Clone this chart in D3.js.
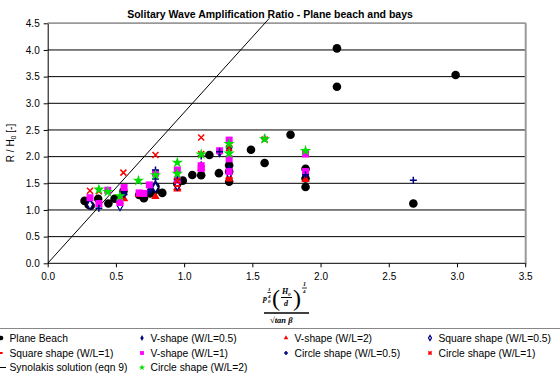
<!DOCTYPE html>
<html><head><meta charset="utf-8">
<script src="https://cdn.jsdelivr.net/npm/d3@7"></script>
<style>body{margin:0;background:#fff}svg{display:block;font-family:"Liberation Sans",Arial,sans-serif}</style>
</head><body><div id="c"></div>
<script>
const xTicks=[0,0.5,1,1.5,2,2.5,3,3.5];
const yTicks=[0,0.5,1,1.5,2,2.5,3,3.5,4,4.5];
const planeBeach=[[0.27,1.17],[0.30,1.10],[0.315,1.08],[0.37,1.21],[0.445,1.12],[0.49,1.21],[0.555,1.35],[0.67,1.28],[0.705,1.22],[0.75,1.31],[0.79,1.375],[0.79,1.44],[0.84,1.32],[0.95,1.49],[0.99,1.55],[1.06,1.655],[1.125,1.65],[1.185,2.03],[1.255,1.69],[1.33,1.84],[1.33,1.72],[1.33,1.53],[1.49,2.13],[1.59,1.88],[1.78,2.41],[1.89,1.77],[1.89,1.59],[1.89,1.43],[2.12,4.03],[2.12,3.31],[2.99,3.53],[2.68,1.12]];
const vShape05=[[0.31,1.13],[0.53,1.10],[0.56,1.30],[0.75,1.375],[0.79,1.47],[0.95,1.52],[1.125,1.82],[1.26,2.08],[1.33,2.15],[1.33,1.76],[1.89,1.65]];
const vShape2=[[0.53,1.15],[0.56,1.21],[0.67,1.29],[0.79,1.25],[0.95,1.42],[0.95,1.39],[1.125,1.78],[1.33,1.63],[1.33,1.58],[1.89,1.57]];
const square05=[[0.31,1.10],[0.53,1.08],[0.79,1.42],[0.95,1.46],[1.33,1.68]];
const square1=[[0.44,1.35],[0.67,1.30],[0.95,1.45],[1.33,1.60],[1.59,2.33]];
const vShape1=[[0.31,1.23],[0.375,1.12],[0.44,1.37],[0.53,1.14],[0.56,1.42],[0.67,1.32],[0.705,1.31],[0.745,1.47],[0.79,1.69],[0.95,1.75],[0.95,1.56],[1.125,1.83],[1.125,1.78],[1.26,2.11],[1.33,2.31],[1.33,1.96],[1.33,1.72],[1.89,2.05],[1.89,1.72]];
const circle05=[[0.375,1.03],[0.56,1.29],[0.79,1.58],[0.79,1.75],[0.95,1.57],[1.125,2.01],[1.26,2.09],[1.33,2.18],[1.59,2.35],[1.89,1.66],[2.68,1.555]];
const circle1=[[0.31,1.36],[0.375,1.35],[0.555,1.70],[0.79,2.03],[0.95,1.55],[1.125,2.36],[1.125,2.05],[1.33,2.16],[1.59,2.32]];
const circle2=[[0.375,1.385],[0.44,1.34],[0.53,1.26],[0.665,1.55],[0.79,1.655],[0.95,1.89],[0.95,1.68],[1.125,2.045],[1.33,2.24],[1.33,2.06],[1.59,2.33],[1.89,2.11]];
const synolakisX=[0,1.63];
const synolakisY=[0,4.61];
const legendNames=["Plane Beach","V-shape (W/L=0.5)","V-shape (W/L=2)","Square shape  (W/L=0.5)","Square shape  (W/L=1)","V-shape (W/L=1)","Circle shape (W/L=0.5)","Circle shape (W/L=1)","Synolakis solution (eqn 9)","Circle shape (W/L=2)"];

const W=560,H=374;
const svg=d3.select("#c").append("svg").attr("width",W).attr("height",H);
const x=d3.scaleLinear().domain([0,3.5]).range([47.7,525.2]);
const y=d3.scaleLinear().domain([0,4.5]).range([263.3,23.3]);

// grid
svg.append("g").selectAll("line").data(yTicks.slice(1)).join("line")
  .attr("x1",x(0)).attr("x2",x(3.5)).attr("y1",d=>y(d)).attr("y2",d=>y(d))
  .attr("stroke","#000").attr("stroke-width",1);
// top/right border
svg.append("line").attr("x1",x(0)).attr("x2",x(3.5)+1).attr("y1",y(4.5)).attr("y2",y(4.5)).attr("stroke","#999").attr("stroke-width",1.5);
svg.append("line").attr("x1",x(3.5)+0.5).attr("x2",x(3.5)+0.5).attr("y1",y(4.5)).attr("y2",y(0)+1).attr("stroke","#999").attr("stroke-width",2);

// axes
const xa=svg.append("g").attr("transform",`translate(0,${y(0)})`)
  .call(d3.axisBottom(x).tickValues(xTicks).tickFormat(d3.format(".1f")).tickSizeInner(4).tickSizeOuter(0).tickPadding(6));
const ya=svg.append("g").attr("transform",`translate(${x(0)},0)`)
  .call(d3.axisLeft(y).tickValues(yTicks).tickFormat(d3.format(".1f")).tickSizeInner(4).tickSizeOuter(0).tickPadding(4));
[xa,ya].forEach(a=>{a.selectAll("text").attr("font-size","10px").attr("fill","#000").attr("font-family","Liberation Sans, Arial");a.select(".domain").attr("stroke","#000");a.selectAll(".tick line").attr("stroke","#000");});
xa.select(".domain").attr("d",`M${x(0)},0H${x(3.5)}`);

// synolakis line
svg.append("defs").append("clipPath").attr("id","cp").append("rect").attr("x",x(0)).attr("y",y(4.5)-5).attr("width",x(3.5)-x(0)).attr("height",y(0)-y(4.5)+5);
svg.append("path").attr("clip-path","url(#cp)")
  .attr("d",d3.line()(synolakisX.map((v,i)=>[x(v),y(synolakisY[i])])))
  .attr("stroke","#000").attr("fill","none").attr("stroke-width",1);

// marker painters
function plus(g,s,c,w){g.append("path").attr("d",`M${-s},0H${s}M0,${-s}V${s}`).attr("stroke",c).attr("stroke-width",w).attr("fill","none");}
function xmark(g,s,c,w){g.append("path").attr("d",`M${-s},${-s}L${s},${s}M${-s},${s}L${s},${-s}`).attr("stroke",c).attr("stroke-width",w).attr("fill","none");}
const painters={
 plane:(g,k)=>g.append("circle").attr("r",4.3*k).attr("fill","#000"),
 v05:(g,k)=>g.append("path").attr("d",d3.symbol(d3.symbolDiamond,34*k*k)()).attr("fill","#000080"),
 v2:(g,k)=>g.append("path").attr("d",d3.symbol(d3.symbolTriangle,30*k*k)()).attr("fill","#ff0000"),
 s05:(g,k)=>g.append("path").attr("d",d3.symbol(d3.symbolDiamond,26*k*k)()).attr("fill","#fff").attr("stroke","#000080").attr("stroke-width",1.2),
 s1:(g,k)=>g.append("rect").attr("x",-3*k).attr("y",-1).attr("width",6*k).attr("height",2).attr("fill","#ff0000"),
 v1:(g,k)=>g.append("rect").attr("x",-3.5*k).attr("y",-3.5*k).attr("width",7*k).attr("height",7*k).attr("fill","#ff00ff"),
 c05:(g,k)=>plus(g,3.5*k,"#000080",1.5),
 c1:(g,k)=>xmark(g,3*k,"#ff0000",1.5),
 c2:(g,k)=>g.append("path").attr("d",d3.symbol(d3.symbolStar,40*k*k)()).attr("fill","#00dd00")
};
const order=[["plane",planeBeach],["v05",vShape05],["v2",vShape2],["s05",square05],["s1",square1],["v1",vShape1],["c05",circle05],["c1",circle1],["c2",circle2]];
order.forEach(([k,data])=>{
  svg.append("g").selectAll("g").data(data).join("g")
   .attr("transform",d=>`translate(${x(d[0])},${y(d[1])})`)
   .each(function(){painters[k](d3.select(this),1);});
});

// title
svg.append("text").attr("x",270).attr("y",18).attr("text-anchor","middle").attr("font-weight","bold").attr("font-size","10.5px").text("Solitary Wave Amplification Ratio - Plane beach and bays");

// y label
const yl=svg.append("text").attr("transform","translate(14,143) rotate(-90)").attr("text-anchor","middle").attr("font-size","10px");
yl.append("tspan").text("R / H");
yl.append("tspan").attr("font-size","7px").attr("dy","2").text("0");
yl.append("tspan").attr("dy","-2").text(" [-]");

// x label formula
const f=svg.append("g").attr("font-size","8px").attr("font-weight","bold").attr("font-style","italic").attr("font-family","Liberation Serif, Times New Roman");
f.append("text").attr("x",263).attr("y",301).text("p");
f.append("text").attr("x",268).attr("y",303).attr("font-size","5px").text("0");
f.append("text").attr("x",268).attr("y",291).attr("font-size","5px").text("1");
f.append("line").attr("x1",267.5).attr("x2",271).attr("y1",292.5).attr("y2",292.5).attr("stroke","#000").attr("stroke-width",0.8);
f.append("text").attr("x",268).attr("y",298).attr("font-size","5px").text("4");
f.append("text").attr("x",272).attr("y",306).attr("font-size","24px").attr("font-weight","normal").attr("font-style","normal").text("(");
f.append("text").attr("x",282).attr("y",294).text("H");
f.append("text").attr("x",288).attr("y",296).attr("font-size","5px").text("0");
f.append("line").attr("x1",281).attr("x2",292).attr("y1",297.5).attr("y2",297.5).attr("stroke","#000").attr("stroke-width",1);
f.append("text").attr("x",284).attr("y",306).text("d");
f.append("text").attr("x",293).attr("y",306).attr("font-size","24px").attr("font-weight","normal").attr("font-style","normal").text(")");
f.append("text").attr("x",303).attr("y",286).attr("font-size","6px").text("1");
f.append("line").attr("x1",302).attr("x2",307).attr("y1",288).attr("y2",288).attr("stroke","#000").attr("stroke-width",0.8);
f.append("text").attr("x",303).attr("y",293).attr("font-size","5px").text("4");
f.append("line").attr("x1",264).attr("x2",309).attr("y1",313).attr("y2",313).attr("stroke","#000").attr("stroke-width",1.5);
f.append("text").attr("x",270).attr("y",322.5).attr("font-size","8.5px").text("√tan β");

// legend
svg.append("line").attr("x1",0).attr("x2",560).attr("y1",328.5).attr("y2",328.5).attr("stroke","#888").attr("stroke-width",1);
const keys=["plane","v05","v2","s05","s1","v1","c05","c1","syn","c2"];
const colX=[1,142,286,430];
const rowY=[338,353,367.5];
const leg=svg.append("g");
keys.forEach((k,i)=>{
  const cx=colX[i%4], cy=rowY[Math.floor(i/4)];
  const g=leg.append("g").attr("transform",`translate(${cx},${cy})`);
  if(k==="syn"){g.append("line").attr("x1",-3).attr("x2",5).attr("y1",0).attr("y2",0).attr("stroke","#000");}
  else painters[k](g,0.55);
  g.append("text").attr("x",8.5).attr("y",3.5).attr("font-size","10.3px").text(legendNames[i]);
});
</script></body></html>
